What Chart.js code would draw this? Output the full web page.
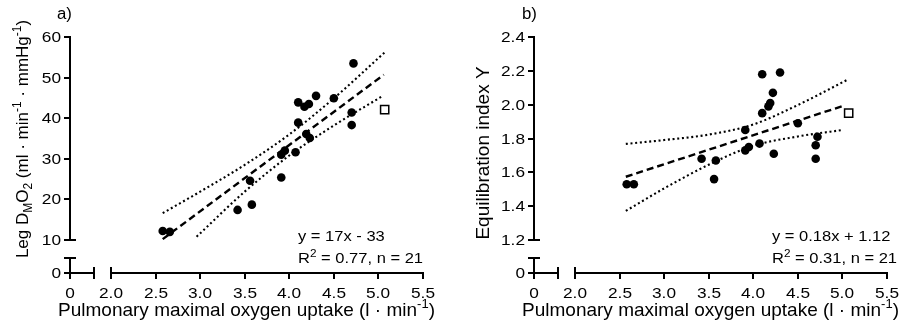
<!DOCTYPE html>
<html>
<head>
<meta charset="utf-8">
<script src="https://cdn.jsdelivr.net/npm/chart.js@4/dist/chart.umd.min.js"></script>
<style>
  body { margin: 0; background: #fff; }
  .row { display: flex; width: 899px; height: 326px; }
  canvas { display: block; }
</style>
</head>
<body>
<div class="row">
  <canvas id="panelA" width="450" height="326"></canvas>
  <canvas id="panelB" width="449" height="326"></canvas>
</div>
<script>
// pulmonary VO2max per subject (l/min), same order for both panels
const vo2max    = [2.58, 2.66, 3.42, 3.56, 3.58, 3.91, 3.91, 3.95, 4.07, 4.10,
                   4.10, 4.17, 4.19, 4.22, 4.23, 4.30, 4.50, 4.70, 4.70, 4.72];
const legDmO2   = [12.2, 12.0, 17.4, 24.6, 18.7, 25.4, 31.0, 32.0, 31.6, 38.9,
                   43.9, 42.8, 36.1, 43.5, 35.1, 45.5, 44.9, 41.4, 38.3, 53.5];
const equilIdx  = [1.53, 1.53, 1.68, 1.56, 1.67, 1.73, 1.85, 1.75, 1.77, 1.95,
                   2.18, 1.99, 2.01, 2.07, 1.71, 2.19, 1.89, 1.76, 1.68, 1.81];

// the one subject drawn as an open square
const outlierVo2   = [5.07];
const outlierDmO2  = [42.1];
const outlierEquil = [1.95];

// regression line and 95% confidence band, panel a
const fitAx   = [2.58, 5.06];
const fitAy   = [10.2, 50.7];
const upperAx = [2.58, 3.0, 3.5, 4.0, 4.5, 5.07];
const upperAy = [16.6, 21.9, 28.5, 36.0, 44.9, 56.2];
const lowerAx = [2.96, 3.5, 4.0, 4.5, 5.05];
const lowerAy = [10.8, 21.9, 30.8, 38.2, 45.5];

// regression line and 95% confidence band, panel b
const fitBx   = [2.57, 5.01];
const fitBy   = [1.574, 1.993];
const upperBx = [2.57, 3.0, 3.5, 4.0, 4.5, 5.07];
const upperBy = [1.768, 1.791, 1.823, 1.883, 1.998, 2.151];
const lowerBx = [2.57, 3.0, 3.5, 4.0, 4.5, 5.01];
const lowerBy = [1.372, 1.505, 1.645, 1.757, 1.812, 1.851];

// tick labels
const xTicks   = [2.0, 2.5, 3.0, 3.5, 4.0, 4.5, 5.0, 5.5];
const dmTicks  = [10, 20, 30, 40, 50, 60];
const eqTicks  = [1.2, 1.4, 1.6, 1.8, 2.0, 2.2, 2.4];

const FONT = '"Liberation Sans", Arial, sans-serif';

const pairs = (xs, ys) => xs.map((x, i) => ({ x: x, y: ys[i] }));

// draws a run of text pieces, each ['text', ''|'sub'|'sup']
function drawRich(ctx, parts, x, y, size, opts) {
  opts = opts || {};
  const sx = opts.sx || 1;
  const align = opts.align || 'left';
  ctx.save();
  let w = 0;
  const items = parts.map(([t, k]) => {
    const fs = k ? Math.round(size * 0.68) : size;
    ctx.font = fs + 'px ' + FONT;
    const dy = k === 'sub' ? size * 0.26 : k === 'sup' ? -size * 0.42 : 0;
    const it = { t: t, fs: fs, dy: dy, x: w };
    w += ctx.measureText(t).width;
    return it;
  });
  ctx.translate(x, y);
  if (opts.rotate) ctx.rotate(opts.rotate);
  ctx.scale(sx, 1);
  const x0 = align === 'center' ? -w / 2 : align === 'right' ? -w : 0;
  ctx.fillStyle = '#000';
  ctx.textAlign = 'left';
  ctx.textBaseline = 'alphabetic';
  items.forEach(it => {
    ctx.font = it.fs + 'px ' + FONT;
    ctx.fillText(it.t, x0 + it.x, it.dy);
  });
  ctx.restore();
}

function line(ctx, x1, y1, x2, y2) {
  ctx.beginPath();
  ctx.moveTo(x1, y1);
  ctx.lineTo(x2, y2);
  ctx.stroke();
}

// axes with a break between zero and the first real tick
const brokenAxes = {
  id: 'brokenAxes',
  afterDraw(chart, args, o) {
    const ctx = chart.ctx;
    const xs = chart.scales.x, ys = chart.scales.y;
    const x0 = Math.round(xs.getPixelForValue(o.xZero));
    const y0 = Math.round(ys.getPixelForValue(o.yZero));
    const px = v => Math.round(xs.getPixelForValue(v));
    const py = v => Math.round(ys.getPixelForValue(v));
    const T = 6;

    ctx.save();
    ctx.strokeStyle = '#000';
    ctx.lineWidth = 2;
    ctx.lineCap = 'butt';

    // y axis, upper part
    const yLo = py(o.yTicks[0]);
    const yHi = py(o.yTicks[o.yTicks.length - 1]);
    line(ctx, x0, yHi - 1, x0, yLo);
    o.yTicks.slice(1).forEach(v => line(ctx, x0 - T, py(v), x0, py(v)));
    line(ctx, x0 - T, yLo, x0 + T, yLo);
    // y axis, stub at zero
    const yb = py(o.yBreak);
    line(ctx, x0, yb, x0, y0 + T);
    line(ctx, x0 - T, yb, x0 + T, yb);
    line(ctx, x0 - T, y0, x0, y0);

    // x axis, stub at zero
    const xb = px(o.xBreak);
    line(ctx, x0, y0, xb, y0);
    line(ctx, xb, y0 - T, xb, y0 + T);
    // x axis, main part
    const xLo = px(xTicks[0]);
    const xHi = px(xTicks[xTicks.length - 1]);
    line(ctx, xLo, y0, xHi + 1, y0);
    line(ctx, xLo, y0 - T, xLo, y0 + T);
    xTicks.slice(1).forEach(v => line(ctx, px(v), y0, px(v), y0 + T));
    ctx.restore();

    // tick labels
    const tf = 15, tsx = 1.15;
    o.yTicks.forEach(v => drawRich(ctx, [[o.yFmt(v), '']], x0 - 9, py(v) + 5, tf, { sx: tsx, align: 'right' }));
    drawRich(ctx, [['0', '']], x0 - 9, y0 + 5, tf, { sx: tsx, align: 'right' });
    xTicks.forEach(v => drawRich(ctx, [[v.toFixed(1), '']], px(v), 298, tf, { sx: tsx, align: 'center' }));
    drawRich(ctx, [['0', '']], x0, 298, tf, { sx: tsx, align: 'center' });

    // axis titles
    const area = chart.chartArea;
    drawRich(ctx, [['Pulmonary maximal oxygen uptake (l · min', ''], ['-1', 'sup'], [')', '']],
      (area.left + area.right) / 2, 316, 19, { align: 'center' });
    drawRich(ctx, o.yTitle, o.yTitleX, o.yTitleY, o.yTitleSize, { align: 'center', rotate: -Math.PI / 2 });

    // panel letter
    drawRich(ctx, [[o.letter, '']], o.letterX, 19, 16, { sx: 1.05 });

    // regression equation
    drawRich(ctx, [[o.eq, '']], o.eqX, 241, 14, { sx: 1.18 });
    drawRich(ctx, [['R', ''], ['2', 'sup'], [o.r2, '']], o.eqX, 263, 14, { sx: 1.18 });
  }
};

function makePanel(id, cfg) {
  return new Chart(document.getElementById(id), {
    type: 'scatter',
    data: {
      datasets: [
        { data: pairs(vo2max, cfg.ys), pointRadius: 4.3, pointBorderWidth: 0,
          pointBackgroundColor: '#000', showLine: false },
        { data: pairs(outlierVo2, cfg.outlier), pointStyle: 'rect', pointRadius: 5.8,
          pointBackgroundColor: '#fff', pointBorderColor: '#000', pointBorderWidth: 1.5, showLine: false },
        { data: pairs(cfg.fit[0], cfg.fit[1]), showLine: true, pointRadius: 0,
          borderColor: '#000', borderWidth: 2.4, borderDash: [7, 4] },
        { data: pairs(cfg.upper[0], cfg.upper[1]), showLine: true, pointRadius: 0,
          borderColor: '#000', borderWidth: 2.1, borderDash: [2, 2.7], cubicInterpolationMode: 'monotone' },
        { data: pairs(cfg.lower[0], cfg.lower[1]), showLine: true, pointRadius: 0,
          borderColor: '#000', borderWidth: 2.1, borderDash: [2, 2.7], cubicInterpolationMode: 'monotone' }
      ]
    },
    options: {
      responsive: false,
      animation: false,
      devicePixelRatio: 1,
      layout: { padding: { top: 37, right: cfg.padRight, left: 0, bottom: 0 } },
      scales: {
        x: {
          type: 'linear', min: 1.54, max: 5.5,
          afterBuildTicks: s => { s.ticks = xTicks.map(v => ({ value: v })); },
          afterFit: s => { s.height = 53; },
          ticks: { display: false },
          grid: { display: false, drawTicks: false },
          border: { display: false }
        },
        y: {
          type: 'linear', min: cfg.yZero, max: cfg.yTicks[cfg.yTicks.length - 1],
          afterBuildTicks: s => { s.ticks = cfg.yTicks.map(v => ({ value: v })); },
          afterFit: s => { s.width = cfg.axisLeft; },
          ticks: { display: false },
          grid: { display: false, drawTicks: false },
          border: { display: false }
        }
      },
      plugins: {
        legend: { display: false },
        tooltip: { enabled: false },
        brokenAxes: {
          xZero: 1.54, xBreak: 1.81,
          yZero: cfg.yZero, yBreak: cfg.yBreak, yTicks: cfg.yTicks, yFmt: cfg.yFmt,
          yTitle: cfg.yTitle, yTitleX: cfg.yTitleX, yTitleY: cfg.yTitleY, yTitleSize: cfg.yTitleSize,
          letter: cfg.letter, letterX: cfg.letterX,
          eq: cfg.eq, r2: cfg.r2, eqX: cfg.eqX
        }
      }
    },
    plugins: [brokenAxes]
  });
}

makePanel('panelA', {
  ys: legDmO2, outlier: outlierDmO2,
  fit: [fitAx, fitAy], upper: [upperAx, upperAy], lower: [lowerAx, lowerAy],
  yTicks: dmTicks, yFmt: v => String(v), yZero: 1.86, yBreak: 5.55,
  axisLeft: 70, padRight: 27,
  yTitle: [['Leg D', ''], ['M', 'sub'], ['O', ''], ['2', 'sub'], [' (ml · min', ''], ['-1', 'sup'],
           [' · mmHg', ''], ['-1', 'sup'], [')', '']],
  yTitleX: 28, yTitleY: 139, yTitleSize: 17,
  letter: 'a)', letterX: 57,
  eq: 'y = 17x - 33', r2: ' = 0.77, n = 21', eqX: 298
});

makePanel('panelB', {
  ys: equilIdx, outlier: outlierEquil,
  fit: [fitBx, fitBy], upper: [upperBx, upperBy], lower: [lowerBx, lowerBy],
  yTicks: eqTicks, yFmt: v => v.toFixed(1), yZero: 1.005, yBreak: 1.094,
  axisLeft: 84, padRight: 12,
  yTitle: [['Equilibration index Y', '']],
  yTitleX: 39, yTitleY: 153, yTitleSize: 19,
  letter: 'b)', letterX: 72,
  eq: 'y = 0.18x + 1.12', r2: ' = 0.31, n = 21', eqX: 322
});
</script>
</body>
</html>
